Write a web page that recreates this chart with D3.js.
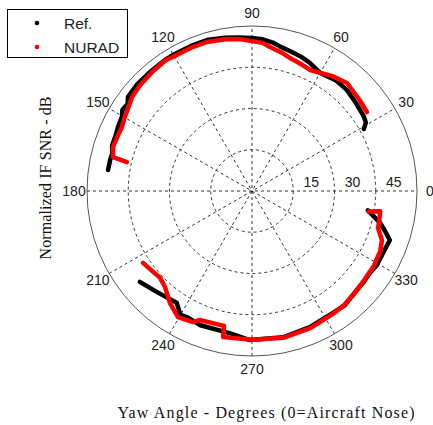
<!DOCTYPE html>
<html lang="en">
<head>
<meta charset="UTF-8">
<script src="https://cdn.jsdelivr.net/npm/d3@7"></script>
<title>Yaw pattern</title>
<style>
    body { margin: 0; background: white; }
    .tick { font-family: Arial, "Liberation Sans", sans-serif; font-size: 14px; fill: #222; }
    .axlabel { font-family: "Times New Roman", "Liberation Serif", serif; font-size: 16px; fill: #111; }
</style>
</head>
<body>
<div id="chart"></div>
<script>
    // [angle in degrees, normalized SNR in dB]
    const refUpper = [
        [29, 46.5], [31, 48.3], [34, 48.9], [40, 49.5], [46.7, 50.4], [53, 50.5], [60, 49.6],
        [65.6, 51.1], [70, 52], [74, 52.6], [78.9, 53.5], [82, 54.5], [86, 55.3], [90, 55.6],
        [95, 56], [100, 56.6], [106.6, 57.3], [113, 57.2], [120.2, 57.2], [123.6, 57.2],
        [130, 57], [137, 57], [142.8, 56.6], [145, 55.2], [148, 55.6], [150, 54.5], [154.5, 54],
        [158, 53.5], [162, 53.5], [165, 52.6], [167.7, 52.8], [171.7, 52.9]
    ];
    const refLower = [
        [350.5, 42.7], [346, 48], [343.6, 50.2], [340.4, 53.2], [334.7, 52.7], [329.4, 52.8],
        [325, 52.2], [320.4, 52.4], [314, 52.7], [309, 53.5], [303.6, 53.2], [293, 53.8],
        [282, 54.4], [269.2, 54.2], [261, 52.3], [249, 52.3], [243, 51.6], [240, 52], [236, 49],
        [227, 50.4], [219, 52.5]
    ];
    const nuradUpper = [
        [34.5, 50.7], [40, 51.2], [48.7, 52.3], [55, 51], [60, 49.6], [64.4, 48.8], [69, 49.5],
        [74, 50.3], [78, 51.5], [82.9, 52.8], [86, 54], [90, 54.5], [95, 55.5], [100, 56],
        [106.8, 56.6], [113, 56.6], [120.2, 56.6], [123.6, 57], [130, 56.5], [137, 56],
        [141.9, 55.4], [147, 54], [150, 53.5], [153.8, 52.7], [158, 52.8], [162.4, 53],
        [166.3, 52], [167, 46.7]
    ];
    const nuradLower = [
        [350, 43], [351, 47.2], [347, 47.5], [343.6, 47.8], [339.3, 50.5], [335, 51.5],
        [328.6, 52], [320.4, 52.2], [314, 52.7], [309, 53.3], [303.6, 53.5], [293, 54.2],
        [282, 54.6], [270, 54.1], [258.8, 54.1], [258.3, 50.1], [248, 50.6], [245.8, 52.3],
        [239.6, 53.2], [233.8, 50.5], [227.8, 47.1], [223.4, 46], [213.4, 47.5]
    ];
    const ringTicks = [15, 30, 45];
    const angleTicks = [0, 30, 60, 90, 120, 150, 180, 210, 240, 270, 300, 330];
    const legendNames = ["Ref.", "NURAD"];
    const seriesColors = ["#000000", "#ff0000"];

    const width = 433, height = 425;
    const cx = 252, cy = 191;
    const rMax = 60;

    const svg = d3.select("#chart").append("svg")
        .attr("width", width)
        .attr("height", height);

    const r = d3.scaleLinear().domain([0, rMax]).range([0, 165]);
    const rad = a => (90 - a) * Math.PI / 180; // math angle -> d3 radial angle

    const g = svg.append("g").attr("transform", `translate(${cx},${cy})`);

    // outer circle
    g.append("circle")
        .attr("r", r(rMax))
        .attr("fill", "white")
        .attr("stroke", "#555")
        .attr("stroke-width", 1);

    // rings
    g.selectAll(".ring")
        .data(ringTicks)
        .enter().append("circle")
        .attr("r", d => r(d))
        .attr("fill", "none")
        .attr("stroke", "#333")
        .attr("stroke-width", 1)
        .attr("stroke-dasharray", "3,3");

    // spokes
    g.selectAll(".spoke")
        .data(angleTicks.filter(a => a < 180))
        .enter().append("line")
        .attr("x1", d => -r(rMax) * Math.cos(d * Math.PI / 180))
        .attr("y1", d => r(rMax) * Math.sin(d * Math.PI / 180))
        .attr("x2", d => r(rMax) * Math.cos(d * Math.PI / 180))
        .attr("y2", d => -r(rMax) * Math.sin(d * Math.PI / 180))
        .attr("stroke", "#333")
        .attr("stroke-width", 1)
        .attr("stroke-dasharray", "3,3");

    // angle labels
    g.selectAll(".alab")
        .data(angleTicks)
        .enter().append("text")
        .attr("class", "tick")
        .attr("x", d => 178 * Math.cos(d * Math.PI / 180))
        .attr("y", d => -178 * Math.sin(d * Math.PI / 180))
        .attr("text-anchor", "middle")
        .attr("dominant-baseline", "central")
        .text(d => d);

    // radial labels
    g.selectAll(".rlab")
        .data(ringTicks)
        .enter().append("text")
        .attr("class", "tick")
        .attr("x", d => r(d) + 18)
        .attr("y", -9)
        .attr("text-anchor", "middle")
        .attr("dominant-baseline", "central")
        .text(d => d);

    const line = d3.lineRadial()
        .angle(d => rad(d[0]))
        .radius(d => r(d[1]));

    const series = [
        { data: [refUpper, refLower], color: seriesColors[0] },
        { data: [nuradUpper, nuradLower], color: seriesColors[1] }
    ];
    series.forEach(s => {
        g.selectAll(null)
            .data(s.data)
            .enter().append("path")
            .attr("d", line)
            .attr("fill", "none")
            .attr("stroke", s.color)
            .attr("stroke-width", 4.5)
            .attr("stroke-linejoin", "round")
            .attr("stroke-linecap", "round");
    });

    // legend
    const leg = svg.append("g");
    leg.append("rect")
        .attr("x", 7.5).attr("y", 9.5)
        .attr("width", 120).attr("height", 48)
        .attr("fill", "white")
        .attr("stroke", "#000");
    legendNames.forEach((name, i) => {
        leg.append("circle")
            .attr("cx", 37).attr("cy", 23 + i * 24)
            .attr("r", 2.3)
            .attr("fill", seriesColors[i]);
        leg.append("text")
            .attr("class", "tick")
            .style("font-size", "15.5px")
            .attr("x", 64).attr("y", 23 + i * 24)
            .attr("dominant-baseline", "central")
            .text(name);
    });

    // axis labels
    svg.append("text")
        .attr("class", "axlabel")
        .attr("x", 266).attr("y", 412)
        .attr("text-anchor", "middle")
        .attr("dominant-baseline", "central")
        .attr("textLength", 297)
        .attr("lengthAdjust", "spacing")
        .text("Yaw Angle - Degrees (0=Aircraft Nose)");
    svg.append("text")
        .attr("class", "axlabel")
        .attr("transform", "translate(45,178) rotate(-90)")
        .attr("text-anchor", "middle")
        .attr("dominant-baseline", "central")
        .attr("textLength", 163)
        .attr("lengthAdjust", "spacing")
        .text("Normalized IF SNR - dB");
</script>
</body>
</html>
